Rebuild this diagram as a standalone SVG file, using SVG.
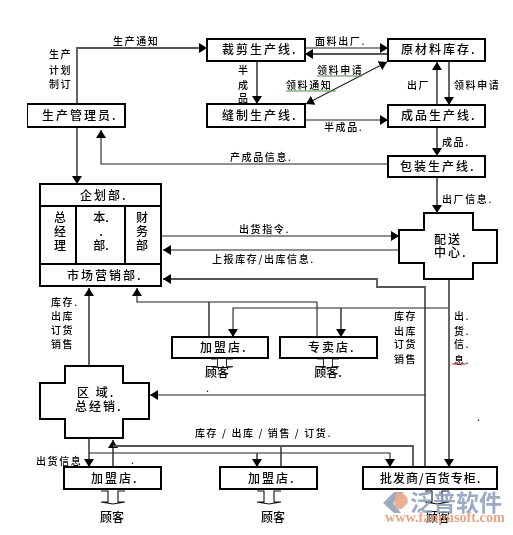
<svg xmlns="http://www.w3.org/2000/svg" width="513" height="535" viewBox="0 0 513 535">
<style>
text{font-family:"Noto Sans CJK SC","Noto Sans",sans-serif;fill:#000;font-weight:500}
.n{font-size:12px;letter-spacing:2px}
.c{font-size:12px;text-anchor:middle}
.s{font-size:10px;letter-spacing:1.6px}
.m{font-size:10px;text-anchor:middle}
.b{fill:#fff;stroke:#000;stroke-width:2}
.t{fill:none;stroke:#000;stroke-width:2}
.l{fill:none;stroke:#222;stroke-width:1.1}
.g{fill:none;stroke:#555;stroke-width:1.8}
.a{marker-end:url(#ah)}
.u{fill:none;stroke:#111;stroke-width:1.1}
</style>
<defs>
<marker id="ah" markerUnits="userSpaceOnUse" markerWidth="10" markerHeight="10" refX="8" refY="5" orient="auto-start-reverse"><path d="M0 0L8 5L0 10Z" fill="#000"/></marker>
<path id="cust" d="M-12 0H-5V11H-12M12 0H5V11H12M-12 11L0 13L12 11"/>
<filter id="soft" x="0" y="0" width="100%" height="100%"><feGaussianBlur stdDeviation="0.45"/></filter>
</defs>
<rect width="513" height="535" fill="#fff"/>
<g filter="url(#soft)">
<g id="connectors">
<path class="g a" d="M77 104V48H207"/>
<path class="g a" d="M77 127V184"/>
<path class="g a" d="M257 61V104"/>
<path class="l a" d="M305 48H388"/>
<path class="g a" d="M388 54H305"/>
<path class="l" d="M306 104L387 62" marker-start="url(#ah)" marker-end="url(#ah)"/>
<path class="g a" d="M437 105V62"/>
<path class="g a" d="M449 61V105"/>
<path class="l a" d="M305 120H388"/>
<path class="g a" d="M437 127V156"/>
<path class="l a" d="M388 164H101V130"/>
<path class="g a" d="M437 177V213"/>
<path class="l a" d="M161 236H399"/>
<path class="l a" d="M399 250H163"/>
<path class="g a" d="M425 467V287H377V279H163"/>
<path class="g" d="M209 337V302"/>
<path class="l a" d="M317 337V302H137V288"/>
<path class="l a" d="M449 308H233V337"/>
<path class="g a" d="M341 308V337"/>
<path class="g a" d="M449 279V467"/>
<path class="l a" d="M425 395H150"/>
<path class="g a" d="M89 366V288"/>
<path class="g a" d="M89 438V467"/>
<path class="g a" d="M113 467V440"/>
<path class="g" d="M113 446H413V467"/>
<path class="g" d="M281 467V446"/>
<path class="l a" d="M89 453H390V467"/>
<path class="g a" d="M257 453V467"/>
</g>
<g id="connector-labels">
<text class="s" x="113" y="45">生产通知</text>
<text class="s" x="49" y="58">生产</text><text class="s" x="49" y="74">计划</text><text class="s" x="49" y="88">制订</text>
<text class="m" x="243" y="74">半</text><text class="m" x="243" y="89">成</text><text class="m" x="243" y="102">品</text>
<text class="s" x="315" y="45">面料出厂.</text>
<text class="s" x="317" y="74">领料申请</text><path d="M317 76H362" stroke="#4a8a4a" fill="none"/>
<text class="s" x="286" y="89">领料通知</text><path d="M286 91H336" stroke="#4a8a4a" fill="none"/>
<text class="s" x="407" y="89">出厂</text>
<text class="s" x="454" y="89">领料申请</text>
<text class="s" x="324" y="131">半成品.</text>
<text class="s" x="442" y="146">成品.</text>
<text class="s" x="230" y="161">产成品信息.</text>
<text class="s" x="442" y="203">出厂信息.</text>
<text class="s" x="239" y="233">出货指令.</text>
<text class="s" x="212" y="263">上报库存/出库信息.</text>
<text class="s" x="51" y="306">库存.</text><text class="s" x="51" y="320">出库</text><text class="s" x="51" y="334">订货</text><text class="s" x="51" y="348">销售</text>
<text class="s" x="394" y="320">库存</text><text class="s" x="394" y="335">出库</text><text class="s" x="394" y="348">订货</text><text class="s" x="394" y="363">销售</text>
<text class="s" x="454" y="320">出.</text><text class="s" x="454" y="335">货.</text><text class="s" x="454" y="348">信.</text><text class="s" x="454" y="364">息.</text><path d="M452 364H466" stroke="#c33" fill="none"/>
<text class="s" x="195" y="437" xml:space="preserve">库存 / 出库 / 销售 / 订货.</text>
<text class="s" x="36" y="465">出货信息</text>
<text class="s" x="206" y="392">.</text><text class="s" x="131" y="464">.</text><text class="s" x="477" y="421">.</text>
</g>
<g id="node-production-manager"><rect class="b" x="27" y="104" width="98" height="23"/><text class="n" x="42" y="120">生产管理员.</text></g>
<g id="node-cutting"><rect class="b" x="207" y="39" width="98" height="22"/><text class="n" x="222" y="54">裁剪生产线.</text></g>
<g id="node-sewing"><rect class="b" x="207" y="104" width="98" height="23"/><text class="n" x="222" y="120">缝制生产线.</text></g>
<g id="node-material"><rect class="b" x="388" y="39" width="97" height="22"/><text class="n" x="401" y="54">原材料库存.</text></g>
<g id="node-finished"><rect class="b" x="388" y="105" width="97" height="22"/><text class="n" x="401" y="120">成品生产线.</text></g>
<g id="node-packing"><rect class="b" x="388" y="156" width="97" height="21"/><text class="n" x="400" y="171">包装生产线.</text></g>
<g id="node-headquarters">
<rect class="b" x="40" y="184" width="121" height="102"/>
<path class="t" d="M40 206H161M40 264H161M76 206V264M125 206V264"/>
<text class="n" x="80" y="200">企划部.</text>
<text class="c" x="60" y="222">总</text><text class="c" x="60" y="236">经</text><text class="c" x="60" y="250">理</text>
<text class="c" x="101" y="222">本.</text><text class="c" x="101" y="236">.</text><text class="c" x="101" y="250">部.</text>
<text class="c" x="142" y="222">财</text><text class="c" x="142" y="236">务</text><text class="c" x="142" y="250">部</text>
<text class="n" x="67" y="280">市场营销部.</text>
</g>
<g id="node-distribution"><path class="b" d="M424 213H473V230H497V263H473V279H424V263H399V230H424Z"/><text class="n" x="434" y="244">配送</text><text class="n" x="434" y="257">中心.</text></g>
<g id="node-franchise-top"><rect class="b" x="172" y="337" width="96" height="21"/><text class="n" x="200" y="352">加盟店.</text><use href="#cust" class="u" transform="translate(222 359) scale(.9 .7)"/><text class="c" x="217" y="377">顾客</text></g>
<g id="node-specialty"><rect class="b" x="280" y="337" width="97" height="21"/><text class="n" x="308" y="352">专卖店.</text><use href="#cust" class="u" transform="translate(328 359) scale(.9 .7)"/><text class="c" x="328" y="377">顾客.</text></g>
<g id="node-regional"><path class="b" d="M65 366H123V383H149V419H123V438H65V419H40V383H65Z"/><text class="n" x="77" y="397" xml:space="preserve">区 域.</text><text class="n" x="75" y="411">总经销.</text></g>
<g id="node-franchise-a"><rect class="b" x="64" y="467" width="97" height="22"/><text class="n" x="91" y="483">加盟店.</text><use href="#cust" class="u" transform="translate(113 491)"/><text class="c" x="112" y="522">顾客</text></g>
<g id="node-franchise-b"><rect class="b" x="220" y="467" width="97" height="22"/><text class="n" x="248" y="483">加盟店.</text><use href="#cust" class="u" transform="translate(269 491)"/><text class="c" x="273" y="522">顾客</text></g>
<g id="node-wholesale"><rect class="b" x="363" y="467" width="134" height="22"/><text class="n" x="380" y="483" style="letter-spacing:1px">批发商/百货专柜.</text><use href="#cust" class="u" transform="translate(437 491)"/><text class="c" x="438" y="522">顾客</text></g>
</g>
<g id="watermark">
<path d="M383 503L394 492H404L393 503L401 513H394Z" fill="#8b9cba" opacity=".85"/>
<path d="M397 492Q408 493 408 502Q404 509 397 510Q391 503 397 492Z" fill="#e6a98c" opacity=".9"/>
<text x="410" y="511" style="font-size:23px;font-weight:700;fill:#8b9cba" opacity=".85">泛普软件</text>
<text x="385" y="522" style='font-family:"Liberation Serif",serif;font-size:14.2px;font-weight:700;fill:#e69c7c' opacity=".9">www.fanpusoft.com</text>
</g>
</svg>
